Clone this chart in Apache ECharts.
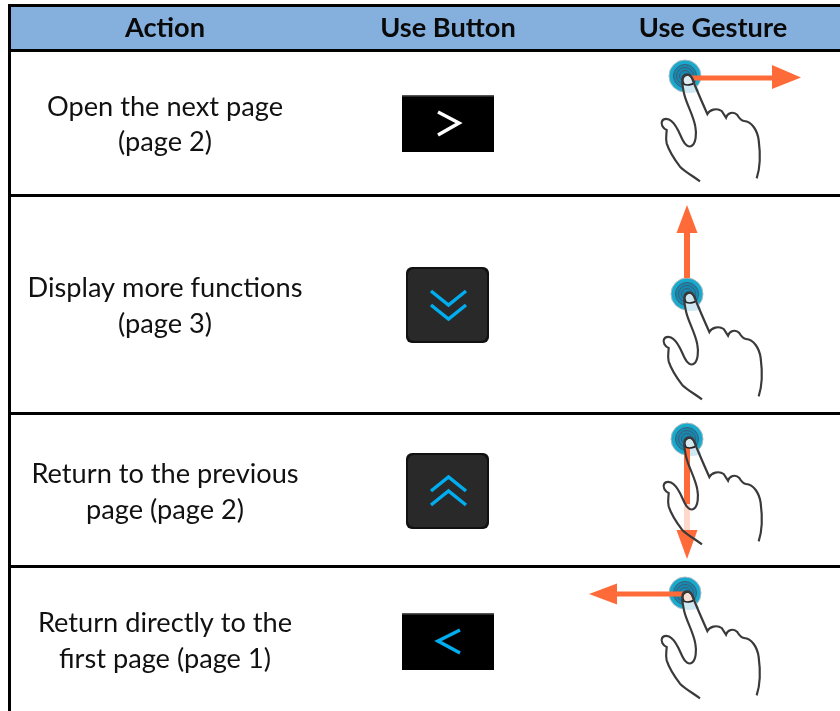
<!DOCTYPE html>
<html>
<head>
<meta charset="utf-8">
<style>html,body{margin:0;padding:0;background:#fff}#main{width:840px;height:711px}</style>
<script src="https://cdn.jsdelivr.net/npm/echarts@6/dist/echarts.min.js"></script>
</head>
<body>
<div id="main"></div>
<script>
// table content
var headers = ['Action', 'Use Button', 'Use Gesture'];
var actions = [
    ['Open the next page', '(page 2)'],
    ['Display more functions', '(page 3)'],
    ['Return to the previous', 'page (page 2)'],
    ['Return directly to the', 'first page (page 1)']
];
var buttons = ['next', 'down', 'up', 'prev'];
var gestures = ['right', 'up', 'down', 'left'];

// layout of the table, pixels
var colX = [165, 448, 713];
var ruleY = [5.5, 50.5, 195.5, 413.5, 566.5];
var textY = [[107, 142], [288, 324], [474, 510], [623, 659]];
var btnY = [95, 267, 453, 613];
var touch = [[685, 76], [687, 294], [687, 439], [685, 593]];
var nailFill = ['#dcecf2', '#cfe6ee', '#d6e9f0', '#f8e0d4'];

var FONT = 'Lato, "Noto Sans", sans-serif';
var ORANGE = '#ff6a39', CYAN = '#00aeef';

// hand outline, 3x local coords, touch point at 195,78
var handPath = 'M240 394 C215 376 195 365 180 350 C165 330 148 305 140 280 C136 265 140 252 140 240 ' +
    'C128 235 122 222 126 214 C130 204 145 204 155 214 C170 225 178 250 188 270 C195 285 207 294 216 287 ' +
    'C228 278 230 250 226 230 C220 195 198 160 192 130 C188 110 184 92 188 82 C194 70 208 70 216 84 ' +
    'C226 110 250 165 262 192 C268 180 290 172 305 183 L318 203 C322 190 340 182 352 195 ' +
    'C358 205 362 212 372 213 C395 215 412 240 416 270 C420 300 422 350 410 385';
var nailPath = 'M188 92 C188 74 208 68 216 84 L223 98 C215 106 200 106 192 103 Z';
var glowPath = 'M186 100 L222 92 L238 122 C222 130 204 130 190 126 Z';

// graphic component has no plain path type, register them as shapes
echarts.graphic.registerShape('handLine', echarts.graphic.extendPath(handPath, {}));
echarts.graphic.registerShape('handNail', echarts.graphic.extendPath(nailPath, {}));
echarts.graphic.registerShape('handGlow', echarts.graphic.extendPath(glowPath, {}));

var els = [];

function text(str, x, y, bold) {
    els.push({
        type: 'text', z: 10,
        style: {
            text: str, x: x, y: y, align: 'center', verticalAlign: 'middle',
            font: (bold ? 'bold ' : '') + '27.2px ' + FONT, fill: bold ? '#0a0a0a' : '#111'
        }
    });
}
function rect(x, y, w, h, fill, r) {
    els.push({ type: 'rect', shape: { x: x, y: y, width: w, height: h, r: r || 0 }, style: { fill: fill } });
}
function line(pts, color, w) {
    els.push({ type: 'polyline', shape: { points: pts }, style: { stroke: color, lineWidth: w, fill: null, lineJoin: 'miter' } });
}

// header band and rules
rect(11, 7, 829, 42, '#85b0dd');
ruleY.forEach(function (y) { rect(8, y - 1.5, 832, 3, '#000'); });
rect(8, 4, 3, 707, '#000');

headers.forEach(function (h, i) { text(h, colX[i], 28, true); });
actions.forEach(function (a, i) {
    text(a[0], colX[0], textY[i][0]);
    text(a[1], colX[0], textY[i][1]);
});

function flatButton(y, color, dir) {
    rect(402, y, 92, 57, '#000');
    rect(402, y, 92, 1.5, '#555');
    var cx = dir > 0 ? 438 : 460, tip = dir > 0 ? 459 : 438;
    line([[cx, y + 17], [tip, y + 28], [cx, y + 40]], color, 3.5);
}
function roundButton(y, dir) {
    rect(406, y, 83, 76, '#111', 6);
    rect(408, y + 2, 79, 72, '#292929', 6);
    var c = y + 38;
    [-7, 7].forEach(function (o) {
        line([[431, c + o - 7 * dir], [448.5, c + o + 7 * dir], [466, c + o - 7 * dir]], CYAN, 3.5);
    });
}
buttons.forEach(function (b, i) {
    if (b === 'next') flatButton(btnY[i], '#fff', 1);
    if (b === 'prev') flatButton(btnY[i], CYAN, -1);
    if (b === 'down') roundButton(btnY[i], 1);
    if (b === 'up') roundButton(btnY[i], -1);
});

function arrow(c, dir) {
    var x = c[0], y = c[1], shaft = [], head = [];
    if (dir === 'right') { shaft = [x, y - 0.5, 87, 5]; head = [[772, y - 11], [801, y + 1.5], [772, y + 13]]; }
    if (dir === 'left') { shaft = [617, y - 1.5, x - 617, 5]; head = [[617, y - 9.5], [589, y + 1], [617, y + 11.5]]; }
    if (dir === 'up') { shaft = [x - 3, 233, 6, y - 16 - 233]; head = [[x - 10.5, 233], [x, 205], [x + 10.5, 233]]; }
    if (dir === 'down') {
        shaft = [x - 3, y, 6, 65];
        rect(x - 3, y + 65, 6, 27, '#ffd8cc');
        head = [[x - 10.5, 530], [x, 559], [x + 10.5, 530]];
    }
    return { shaft: shaft, head: head };
}

gestures.forEach(function (g, i) {
    var c = touch[i], ox = c[0] - 65, oy = c[1] - 26;
    var a;
    // disc with rings
    els.push({ type: 'circle', shape: { cx: c[0], cy: c[1], r: 16 }, style: { fill: '#19a9cc', stroke: '#a9b9bf', lineWidth: 1 } });
    els.push({ type: 'circle', shape: { cx: c[0], cy: c[1], r: 11.5 }, style: { fill: '#1689b5' } });
    [11.5, 8.5, 5.5].forEach(function (r) {
        els.push({ type: 'circle', shape: { cx: c[0], cy: c[1], r: r }, style: { fill: null, stroke: '#3b5f70', lineWidth: 1 } });
    });
    // pale glow over the finger
    els.push({
        type: 'group', x: ox, y: oy, scaleX: 1 / 3, scaleY: 1 / 3,
        children: [{ type: 'handGlow', style: { fill: '#cfe9f2' } }]
    });
    a = arrow(c, g);
    rect(a.shaft[0], a.shaft[1], a.shaft[2], a.shaft[3], ORANGE);
    els.push({ type: 'polygon', shape: { points: a.head }, style: { fill: ORANGE } });
    // hand drawn on top of the arrow
    els.push({
        type: 'group', x: ox, y: oy, scaleX: 1 / 3, scaleY: 1 / 3,
        children: [
            { type: 'handNail', style: { fill: nailFill[i], stroke: '#222', lineWidth: 5 } },
            { type: 'handLine', style: { fill: null, stroke: '#3a3a3a', lineWidth: 6.5 } }
        ]
    });
});

var mychart = echarts.init(document.getElementById('main'), null, { renderer: 'canvas' });
mychart.setOption({
    backgroundColor: '#fff',
    animation: false,
    graphic: { elements: els }
});
</script>
</body>
</html>
